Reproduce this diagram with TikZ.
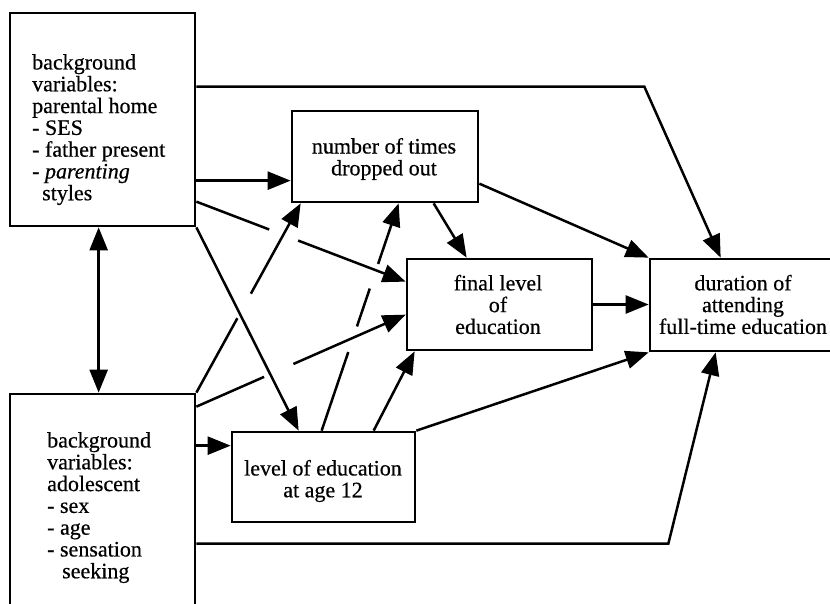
\documentclass[tikz,border=0pt]{standalone}
\usepackage{fontspec}
\setmainfont{Liberation Serif}[FakeBold=0.5]
\usetikzlibrary{arrows.meta,calc}
\begin{document}
\begin{tikzpicture}[x=1pt,y=-1pt,
  box/.style={draw, line width=2.7pt, inner sep=0pt, fill=white},
  txt/.style={inner sep=0pt, align=center, font=\fontsize{22}{21.8}\selectfont},
  ltxt/.style={txt, align=left, anchor=north west},
  arr/.style={line width=2.5pt, -{Triangle[length=23pt,width=18pt]}},
  dbl/.style={line width=2.5pt, {Triangle[length=23pt,width=18pt]}-{Triangle[length=23pt,width=18pt]}}]
\useasboundingbox (0,0) rectangle (830,604);
\clip (0,0) rectangle (830,604);
% boxes
\node[box, minimum width=185pt, minimum height=213pt] (par) at (102.5,119.5) {};
\node[box, minimum width=185pt, minimum height=246pt] (ado) at (102.5,517) {};
\node[box, minimum width=186pt, minimum height=91pt] (num) at (385,156.5) {};
\node[box, minimum width=185pt, minimum height=91pt] (fin) at (499.5,304.5) {};
\node[box, minimum width=186pt, minimum height=92pt] (dur) at (743,305) {};
\node[box, minimum width=183pt, minimum height=90pt] (lev) at (323.5,477) {};
% connectors
\draw[arr] ($(par.north east)+(0,169)$) -- ($(num.north west)+(0,71)$);
\draw[arr, dash pattern=on 78pt off 31pt on 600pt] ($(par.north east)+(0,190)$) -- ($(fin.north west)+(0,24)$);
\draw[arr] (par.south east) -- ($(lev.north west)+(68,0)$);
\draw[arr] ($(par.north east)+(0,75)$) -- ++(448,0) -- ($(dur.north west)+(72,0)$);
\draw[arr] ($(num.south west)+(143,0)$) -- ($(fin.north west)+(61,0)$);
\draw[arr] ($(num.north east)+(0,74)$) -- (dur.north west);
\draw[arr] (fin.east) -- (fin.east -| dur.west);
\draw[arr] (lev.north east) -- (dur.south west);
\draw[arr] ($(lev.north west)+(143,0)$) -- ($(fin.south west)+(9,0)$);
\draw[arr, dash pattern=on 83pt off 27pt on 40pt off 26pt on 600pt] ($(lev.north west)+(91,0)$) -- ($(num.south west)+(108,0)$);
\draw[arr, dash pattern=on 85pt off 28pt on 600pt] (ado.north east) -- ($(num.south west)+(10,0)$);
\draw[arr, dash pattern=on 74pt off 32pt on 600pt] ($(ado.north east)+(0,14)$) -- ($(fin.north west)+(0,57)$);
\draw[arr] ($(ado.north east)+(0,53)$) -- ($(lev.north west)+(0,15)$);
\draw[arr] ($(ado.north east)+(0,151)$) -- ++(472,0) -- ($(dur.south west)+(67,0)$);
\draw[dbl] ($(par.south west)+(90,0)$) -- ($(ado.north west)+(90,0)$);
% texts
\node[ltxt] (parT) at (32,54) {background\\variables:\\parental home\\- SES\\- father present\\- \textit{parenting}\\\hspace*{10pt}styles};
\node[ltxt] (adoT) at (47,432) {background\\variables:\\adolescent\\- sex\\- age\\- sensation\\\hspace*{15pt}seeking};
\node[txt] (numT) at (384,159) {number of times\\dropped out};
\node[txt] (finT) at (498,304.5) {final level\\of\\education};
\node[txt] (durT) at (743,304.5) {duration of\\attending\\full-time education};
\node[txt] (levT) at (323,481) {level of education\\at age 12};
\end{tikzpicture}
\end{document}
